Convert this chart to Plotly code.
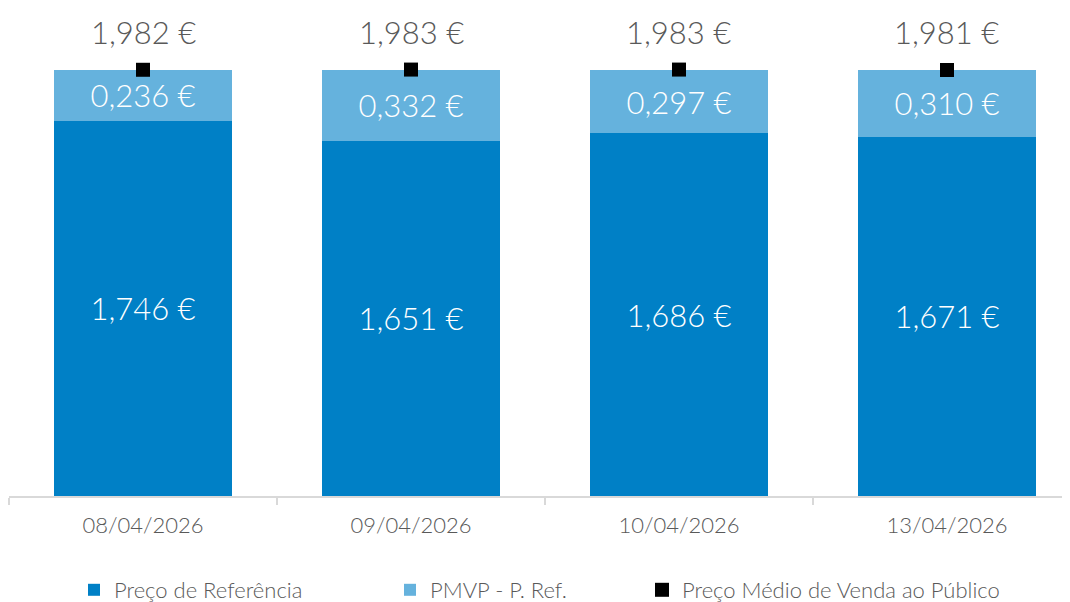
import plotly.graph_objects as go

datas = ['08/04/2026', '09/04/2026', '10/04/2026', '13/04/2026']
preco_ref = [1.746, 1.651, 1.686, 1.671]
pmvp_menos_ref = [0.236, 0.332, 0.297, 0.310]
pmvp = [1.982, 1.983, 1.983, 1.981]

AZUL = '#0080c6'
AZUL_CLARO = '#65b2dd'
CINZA = '#595959'
FONTE = 'Lato'


def euro(v):
    return f'{v:.3f}'.replace('.', ',') + ' €'


fig = go.Figure()

fig.add_trace(go.Bar(
    x=datas, y=preco_ref, name='Preço de Referência',
    marker=dict(color=AZUL, line=dict(width=0)),
    text=[euro(v) for v in preco_ref], textposition='inside',
    insidetextanchor='middle', textangle=0, constraintext='none',
    textfont=dict(family=FONTE, size=31, color='white', weight=300),
    legend='legend', showlegend=True, hoverinfo='skip'))

fig.add_trace(go.Bar(
    x=datas, y=pmvp_menos_ref, name='PMVP - P. Ref.',
    marker=dict(color=AZUL_CLARO, line=dict(width=0)),
    text=[euro(v) for v in pmvp_menos_ref], textposition='inside',
    insidetextanchor='middle', textangle=0, constraintext='none',
    textfont=dict(family=FONTE, size=31, color='white', weight=300),
    legend='legend2', showlegend=True, hoverinfo='skip'))

fig.add_trace(go.Scatter(
    x=datas, y=pmvp, name='Preço Médio de Venda ao Público',
    mode='markers', marker=dict(symbol='square', size=14, color='black'),
    legend='legend3', showlegend=True, hoverinfo='skip'))

# rótulos do PMVP por cima do marcador
for d, v in zip(datas, pmvp):
    fig.add_annotation(x=d, y=v, text=euro(v), showarrow=False, yshift=38,
                       font=dict(family=FONTE, size=31, color=CINZA, weight=300))

leg = dict(orientation='h', yanchor='middle', y=(496 - 590) / 486, xanchor='left',
           font=dict(family=FONTE, size=22, color=CINZA, weight=300),
           bgcolor='rgba(0,0,0,0)', borderwidth=0, itemwidth=30)

# a página tem 8px de margem no body: a figura fica com 1062x594
fig.update_layout(
    width=1062, height=594,
    margin=dict(l=1, r=0, t=2, b=106, autoexpand=False),
    barmode='stack', bargap=0.336, showlegend=True,
    paper_bgcolor='white', plot_bgcolor='white',
    font=dict(family=FONTE, color=CINZA),
    legend=dict(leg, x=(74 - 9) / 1061),
    legend2=dict(leg, x=(390 - 9) / 1061),
    legend3=dict(leg, x=(642 - 9) / 1061),
    xaxis=dict(type='category', range=[-0.5, 3.459], tickson='boundaries',
               ticks='outside', ticklen=7, tickcolor='#d9d9d9', tickwidth=2,
               showline=True, linecolor='#d9d9d9', linewidth=2,
               showgrid=False, ticklabelstandoff=9,
               tickfont=dict(family=FONTE, size=22, color=CINZA, weight=300)),
    yaxis=dict(range=[0, 2.26], visible=False, showgrid=False, zeroline=False),
)

fig.write_html('out.html')
